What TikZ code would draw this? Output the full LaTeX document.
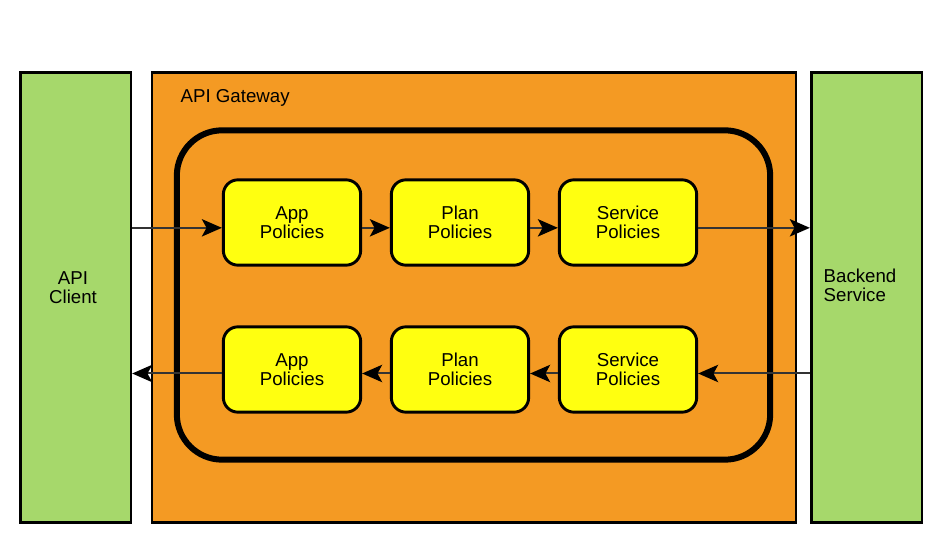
\documentclass[tikz,border=0pt]{standalone}
\usepackage{fontspec}
\setmainfont{Liberation Sans}
\usetikzlibrary{arrows.meta, positioning}
\definecolor{sidegreen}{HTML}{A6D86B}
\definecolor{gwOrange}{HTML}{F49A23}
\definecolor{polYellow}{HTML}{FFFF10}
\definecolor{flowGray}{HTML}{333333}

\begin{document}
\begin{tikzpicture}[x=0.75pt, y=-0.75pt,
  >={Stealth[length=15pt, width=13pt, inset=3.5pt, black]},
  every node/.style={font=\fontsize{14}{14.5}\selectfont},
  side/.style={draw, line width=2pt, fill=sidegreen, minimum width=83pt, minimum height=337pt},
  gate/.style={draw, line width=2pt, fill=gwOrange, minimum width=483pt, minimum height=337pt},
  chain/.style={draw, line width=4.5pt, rounded corners=34pt, minimum width=445pt, minimum height=247pt},
  policy/.style={draw, line width=2.2pt, fill=polYellow, rounded corners=11pt, minimum width=103pt, minimum height=64pt, align=center},
  flow/.style={->, draw=flowGray, line width=1.5pt}
]
  \useasboundingbox (0,0) rectangle (942,548);
  \node[side] (client) at (75.5,297.5) {};
  \node[gate] (gw) at (474,297.5) {};
  \node[side] (backend) at (866.5,297.5) {};
  \node[chain] (chain) at (473.5,295) {};

  \node[align=center] (clientlbl) at (73,288) {API\\Client};
  \node[align=left, anchor=west] (backendlbl) at (819,285) {Backend\\Service};
  \node[anchor=west] (gwlbl) at (176,98) {API Gateway};

  % request path
  \node[policy] (appIn) at (292,222.5) {App\\Policies};
  \node[policy] (planIn) at (460,222.5) {Plan\\Policies};
  \node[policy] (svcIn) at (628,222.5) {Service\\Policies};
  % response path
  \node[policy] (appOut) at (292,369.5) {App\\Policies};
  \node[policy] (planOut) at (460,369.5) {Plan\\Policies};
  \node[policy] (svcOut) at (628,369.5) {Service\\Policies};

  \draw[flow] ([yshift=-4pt]client.east |- appIn.west) -- ([yshift=-4pt]appIn.west);
  \draw[flow] ([yshift=-4pt]appIn.east) -- ([yshift=-4pt]planIn.west);
  \draw[flow] ([yshift=-4pt]planIn.east) -- ([yshift=-4pt]svcIn.west);
  \draw[flow] ([yshift=-4pt]svcIn.east) -- ([yshift=-4pt]backend.west |- svcIn.east);
  \draw[flow] ([yshift=-3pt]backend.west |- svcOut.east) -- ([yshift=-3pt]svcOut.east);
  \draw[flow] ([yshift=-3pt]svcOut.west) -- ([yshift=-3pt]planOut.east);
  \draw[flow] ([yshift=-3pt]planOut.west) -- ([yshift=-3pt]appOut.east);
  \draw[flow] ([yshift=-3pt]appOut.west) -- ([yshift=-3pt]client.east |- appOut.west);
\end{tikzpicture}
\end{document}
